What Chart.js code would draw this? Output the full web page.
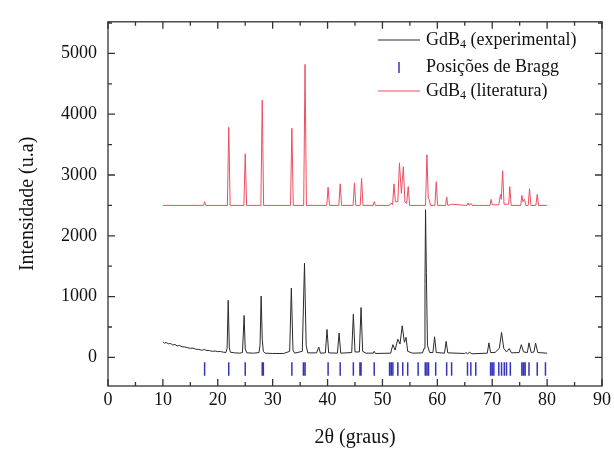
<!DOCTYPE html>
<html>
<head>
<meta charset="utf-8">
<script src="https://cdn.jsdelivr.net/npm/chart.js@4.4.0/dist/chart.umd.min.js"></script>
<style>
  html, body { margin: 0; padding: 0; background: #fff; }
  #wrap { width: 614px; height: 450px; }
</style>
</head>
<body>
<div id="wrap"><canvas id="xrd"></canvas></div>
<script>
// GdB4 experimental pattern (2theta, intensity)
const expX = [10.0, 10.3, 10.6, 11.0, 11.4, 11.8, 12.2, 12.6, 13.0, 13.5, 14.0, 14.5, 15.0, 15.5, 16.0, 16.5, 17.0, 17.4, 17.6, 17.8, 18.5, 19.0, 19.5, 20.0, 20.5, 21.0, 21.5,
  21.7, 21.9, 22.1, 22.3, 23.0, 24.0, 24.5, 24.8, 25.0, 25.3, 26.5, 27.5, 27.7, 27.9, 28.1, 28.3, 28.6, 30.0, 32.0,
  33.1, 33.4, 33.7, 34.0, 35.4, 35.8, 36.1, 36.4, 38.0, 38.4, 38.7, 39.6, 39.9, 40.2, 41.8, 42.1, 42.4, 44.4, 44.7, 45.0,
  45.8, 46.1, 46.4, 47.0, 48.3, 48.5, 48.7, 51.5, 51.9, 52.3, 52.8, 53.2, 53.6, 54.0, 54.3, 54.6, 55.5, 57.3, 57.6,
  57.75, 57.85, 58.0, 58.2, 58.6, 59.2, 59.5, 59.8, 61.3, 61.6, 61.9, 65.0, 65.2, 65.5, 65.9, 66.3, 69.1, 69.4, 69.7,
  70.5, 71.3, 71.7, 72.1, 72.6, 73.1, 73.5, 74.9, 75.3, 75.7, 76.4, 76.7, 77.1, 77.6, 77.9, 78.3, 80.0];
const expY = [255, 235, 245, 225, 230, 205, 212, 190, 196, 175, 172, 160, 150, 152, 135, 132, 120, 122, 140, 115, 112, 100, 106, 95, 97, 86, 82,
  150, 940, 160, 85, 76, 70, 80, 690, 140, 75, 70, 80, 200, 1010, 300, 100, 70, 65, 65,
  100, 1140, 120, 70, 100, 1550, 200, 75, 75, 170, 70, 75, 460, 75, 70, 400, 70, 80, 710, 90,
  90, 820, 100, 70, 70, 100, 65, 70, 210, 120, 300, 220, 520, 250, 330, 100, 70, 75, 150,
  1200, 2430, 1400, 200, 80, 80, 340, 80, 70, 265, 75, 65, 80, 60, 85, 60, 70, 240, 80,
  80, 150, 410, 150, 90, 145, 75, 80, 210, 90, 80, 240, 80, 90, 235, 80, 70];

// GdB4 literature pattern, shifted by +2500
const litX = [10.0, 17.4, 17.6, 17.8, 21.75, 22.0, 22.25, 24.75, 25.0, 25.25, 27.85, 28.1, 28.35, 33.25, 33.5, 33.75,
  35.65, 35.9, 36.15, 39.85, 40.1, 40.35, 42.05, 42.3, 42.55, 44.65, 44.9, 45.15, 45.95, 46.2, 46.45, 48.3, 48.5, 48.7,
  51.3, 51.6, 51.85, 52.1, 52.35, 52.8, 53.1, 53.45, 53.8, 54.1, 54.4, 54.7, 54.95, 57.85, 58.1, 58.35, 58.5, 58.75,
  59.55, 59.8, 60.05, 61.5, 61.7, 61.9, 62.6, 65.4, 65.6, 65.8, 66.2, 66.4, 69.6, 69.8, 70.0, 71.2, 71.5, 71.65, 71.9,
  72.15, 73.0, 73.2, 73.45, 75.2, 75.4, 75.6, 75.9, 76.1, 76.55, 76.8, 77.05, 77.95, 78.2, 78.45, 80.0];
const litY = [2500, 2500, 2560, 2500, 2500, 3785, 2500, 2500, 3350, 2500, 2500, 4230, 2500, 2500, 3770, 2500,
  2500, 4820, 2500, 2500, 2800, 2500, 2500, 2855, 2500, 2500, 2870, 2500, 2500, 2945, 2500, 2500, 2560, 2500,
  2500, 2540, 2510, 2855, 2560, 2560, 3200, 2700, 3135, 2560, 2530, 2810, 2500, 2500, 3335, 2620, 2600, 2500,
  2500, 2890, 2500, 2500, 2640, 2500, 2520, 2500, 2540, 2500, 2530, 2500, 2500, 2600, 2510, 2510, 2680, 2600, 3070,
  2520, 2520, 2810, 2500, 2500, 2665, 2560, 2600, 2500, 2500, 2775, 2500, 2500, 2680, 2500, 2500];

// Bragg reflection positions
const braggPos = [17.6, 22.0, 25.0, 28.1, 28.3, 33.5, 35.6, 35.9, 40.1, 42.3, 44.7, 45.9, 46.1, 48.5, 51.3, 51.6, 51.9,
  52.8, 53.7, 54.6, 56.5, 57.8, 58.1, 58.4, 59.7, 61.7, 62.6, 65.5, 66.1, 67.0, 69.7, 70.0, 70.3, 71.2, 71.7, 72.2,
  72.6, 73.3, 75.4, 75.7, 76.0, 76.7, 78.2, 79.7];
const braggTop = -80;
const braggBottom = -300;

const xTicks = [0, 10, 20, 30, 40, 50, 60, 70, 80, 90];
const yTicks = [0, 1000, 2000, 3000, 4000, 5000];

const serif = "'Liberation Serif', 'Times New Roman', serif";
const expColor = '#2a2a2a';
const litColor = '#ec4e60';
const braggColor = '#3434bd';
Chart.defaults.font.family = serif;
Chart.defaults.color = '#111';

const braggData = [];
braggPos.forEach((p) => {
  braggData.push({ x: p, y: braggTop }, { x: p, y: braggBottom }, { x: p, y: null });
});

// frame with inward major/minor ticks on all four sides
const framePlugin = {
  id: 'frame',
  afterDraw(chart) {
    const { ctx, chartArea: a, scales } = chart;
    ctx.save();
    ctx.strokeStyle = '#333';
    ctx.lineWidth = 1.3;
    ctx.strokeRect(a.left, a.top, a.right - a.left, a.bottom - a.top);
    ctx.beginPath();
    for (let v = 0; v <= 90; v += 5) {
      const px = scales.x.getPixelForValue(v);
      const len = v % 10 === 0 ? 7 : 4;
      ctx.moveTo(px, a.bottom); ctx.lineTo(px, a.bottom - len);
      ctx.moveTo(px, a.top); ctx.lineTo(px, a.top + len);
    }
    for (let v = 0; v <= 5500; v += 500) {
      const py = scales.y.getPixelForValue(v);
      if (py < a.top) continue;
      const len = v % 1000 === 0 ? 7 : 4;
      ctx.moveTo(a.left, py); ctx.lineTo(a.left + len, py);
      ctx.moveTo(a.right, py); ctx.lineTo(a.right - len, py);
    }
    ctx.stroke();
    ctx.restore();
  }
};

// legend with subscripts
function drawLabel(ctx, parts, x, y) {
  parts.forEach(([txt, sub]) => {
    ctx.font = sub ? '12px ' + serif : '18px ' + serif;
    ctx.fillText(txt, x, sub ? y + 5 : y);
    x += ctx.measureText(txt).width;
  });
}
const legendPlugin = {
  id: 'customLegend',
  afterDraw(chart) {
    const ctx = chart.ctx;
    ctx.save();
    ctx.fillStyle = '#111';
    ctx.textBaseline = 'middle';
    ctx.lineWidth = 1;
    ctx.strokeStyle = expColor;
    ctx.beginPath(); ctx.moveTo(378, 40); ctx.lineTo(420, 40); ctx.stroke();
    drawLabel(ctx, [['GdB', false], ['4', true], [' (experimental)', false]], 426, 40);
    ctx.strokeStyle = braggColor;
    ctx.lineWidth = 1.5;
    ctx.beginPath(); ctx.moveTo(399, 62); ctx.lineTo(399, 73); ctx.stroke();
    drawLabel(ctx, [['Posições de Bragg', false]], 426, 67);
    ctx.strokeStyle = litColor;
    ctx.lineWidth = 1;
    ctx.beginPath(); ctx.moveTo(378, 91); ctx.lineTo(420, 91); ctx.stroke();
    drawLabel(ctx, [['GdB', false], ['4', true], [' (literatura)', false]], 426, 91);
    ctx.restore();
  }
};

new Chart(document.getElementById('xrd'), {
  type: 'scatter',
  data: {
    datasets: [
      {
        label: 'GdB4 (literatura)',
        data: litX.map((x, i) => ({ x: x, y: litY[i] })),
        showLine: true,
        borderColor: litColor,
        borderWidth: 1,
        pointRadius: 0,
      },
      {
        label: 'GdB4 (experimental)',
        data: expX.map((x, i) => ({ x: x, y: expY[i] })),
        showLine: true,
        borderColor: expColor,
        borderWidth: 1,
        pointRadius: 0,
      },
      {
        label: 'Posições de Bragg',
        data: braggData,
        showLine: true,
        spanGaps: false,
        borderColor: braggColor,
        borderWidth: 1.5,
        pointRadius: 0,
      },
    ],
  },
  options: {
    responsive: true,
    maintainAspectRatio: false,
    animation: false,
    layout: { padding: { top: 15, right: 11, left: 0, bottom: 0 } },
    plugins: { legend: { display: false }, tooltip: { enabled: false } },
    scales: {
      x: {
        type: 'linear',
        min: 0,
        max: 90,
        afterBuildTicks: (s) => { s.ticks = xTicks.map((v) => ({ value: v })); },
        afterFit: (s) => { s.height = 64; },
        grid: { display: false, drawTicks: false },
        border: { display: false },
        ticks: { font: { family: serif, size: 18 }, padding: 3, maxRotation: 0, color: '#111', callback: (v) => String(v) },
        title: { display: true, text: '2θ (graus)', font: { family: serif, size: 20 }, color: '#111', padding: { top: 8, bottom: 0 } },
      },
      y: {
        type: 'linear',
        min: -470,
        max: 5520,
        afterBuildTicks: (s) => { s.ticks = yTicks.map((v) => ({ value: v })); },
        afterFit: (s) => { s.width = 108; },
        grid: { display: false, drawTicks: false },
        border: { display: false },
        ticks: { font: { family: serif, size: 18 }, padding: 11, color: '#111', callback: (v) => String(v) },
        title: { display: true, text: 'Intensidade (u.a)', font: { family: serif, size: 20 }, color: '#111', padding: { top: 16, bottom: 0 } },
      },
    },
  },
  plugins: [framePlugin, legendPlugin],
});
</script>
</body>
</html>
